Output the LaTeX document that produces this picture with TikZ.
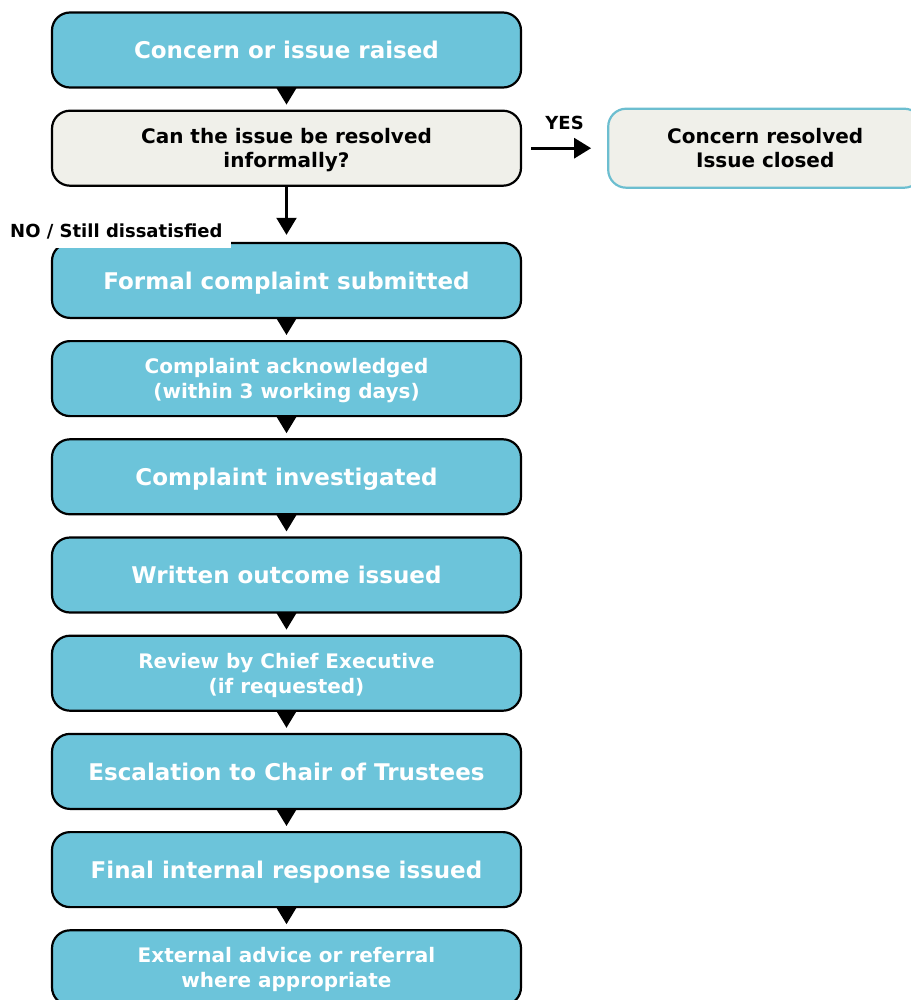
\documentclass[tikz,border=0pt]{standalone}
\usepackage{fontspec}
\setmainfont{DejaVu Sans}
\usepackage{xcolor}
\usetikzlibrary{positioning,arrows.meta}
\definecolor{stepblue}{RGB}{108,196,218}
\definecolor{paleface}{RGB}{240,240,234}
\definecolor{paleedge}{RGB}{108,190,208}

\begin{document}
\begin{tikzpicture}[
            node distance=21pt,
            stepbox/.style={rectangle,rounded corners=18pt,draw,line width=2.2pt,fill=stepblue,text=white,
                            minimum width=469pt,minimum height=75pt,align=center,text depth=0pt,
                            font=\bfseries\fontsize{23}{27}\selectfont},
            twoline/.style={font=\bfseries\fontsize{20}{25}\selectfont},
            askbox/.style={stepbox,fill=paleface,text=black,font=\bfseries\fontsize{20}{24}\selectfont},
            endbox/.style={askbox,draw=paleedge,minimum width=314pt,minimum height=79pt},
            lbl/.style={font=\bfseries\fontsize{18}{21}\selectfont},
            arrow/.style={-{Triangle[width=20pt,length=17pt]},line width=2.2pt}]
            \useasboundingbox (0,0) rectangle (910pt,-1000pt);
            \node[stepbox] (raised) at (286.5pt,-50pt) {Concern or issue raised};
            \node[askbox,below=of raised] (informal) {Can the issue be resolved\\informally?};
            \node[endbox,right=85pt of informal] (closed) {Concern resolved\\Issue closed};
            \node[stepbox,below=55pt of informal] (formal) {Formal complaint submitted};
            \node[stepbox,twoline,below=of formal] (ack) {Complaint acknowledged\\(within 3 working days)};
            \node[stepbox,below=of ack] (invest) {Complaint investigated};
            \node[stepbox,below=of invest] (outcome) {Written outcome issued};
            \node[stepbox,twoline,below=of outcome] (review) {Review by Chief Executive\\(if requested)};
            \node[stepbox,below=of review] (chair) {Escalation to Chair of Trustees};
            \node[stepbox,below=of chair] (final) {Final internal response issued};
            \node[stepbox,twoline,below=of final] (external) {External advice or referral\\where appropriate};
            \node[lbl,fill=white,anchor=west,inner xsep=8pt,inner ysep=9pt] (nolbl) at (2pt,-231pt) {NO / Still dissatisfied};
            \draw[arrow,shorten >=5pt] (raised)--(informal);
            \draw[arrow,shorten >=7pt] (informal)--(formal);
            \draw[arrow,line width=3pt,shorten <=9pt,shorten >=16pt] (informal)--(closed)
                node[lbl,midway,above=14pt] (yes) {YES};
            \draw[arrow,shorten >=5pt] (formal)--(ack);
            \draw[arrow,shorten >=5pt] (ack)--(invest);
            \draw[arrow,shorten >=5pt] (invest)--(outcome);
            \draw[arrow,shorten >=5pt] (outcome)--(review);
            \draw[arrow,shorten >=5pt] (review)--(chair);
            \draw[arrow,shorten >=5pt] (chair)--(final);
            \draw[arrow,shorten >=5pt] (final)--(external);
        \end{tikzpicture}
\end{document}
